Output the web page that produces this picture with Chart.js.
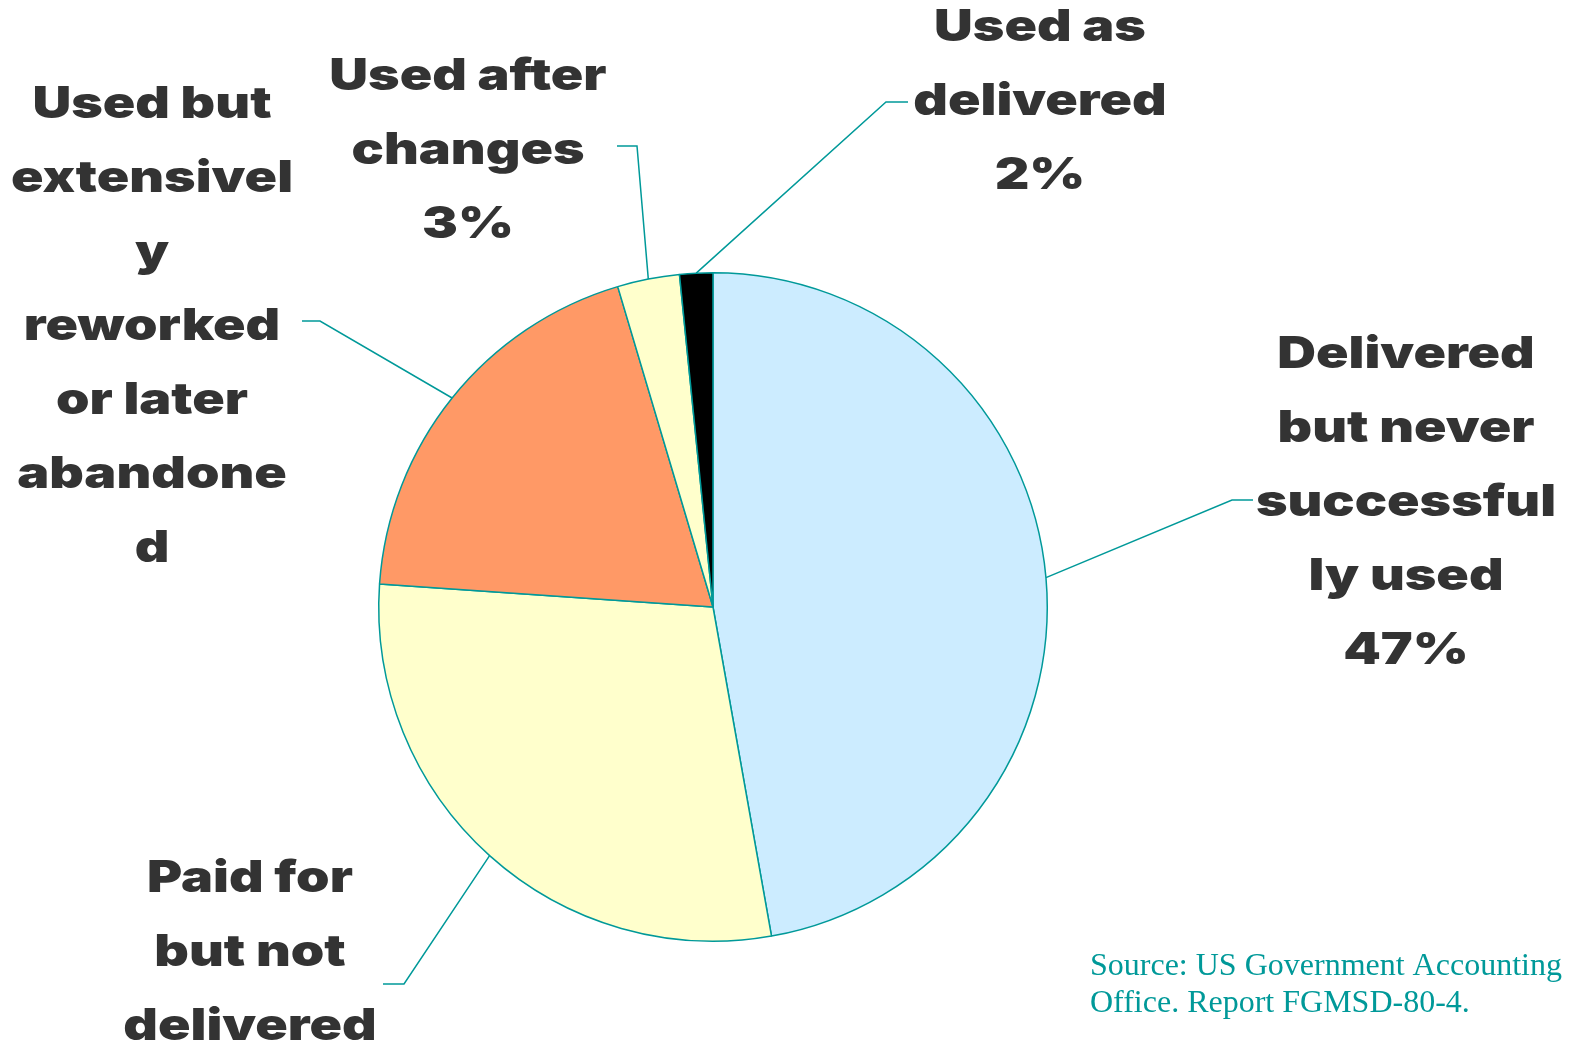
<!DOCTYPE html>
<html><head><meta charset="utf-8">
<script src="https://cdn.jsdelivr.net/npm/chart.js@4.4.0/dist/chart.umd.min.js"></script>
<style>html,body{margin:0;padding:0;background:#fff;overflow:hidden}#wrap{width:1571px;height:1041px;position:relative}</style>
</head><body><div id="wrap"><canvas id="c"></canvas></div>
<script>
// ---- data ----
const categories = [
  "Delivered but never successfully used",
  "Paid for but not delivered",
  "Used but extensively reworked or later abandoned",
  "Used after changes",
  "Used as delivered"
];
const values = [47.2, 28.9, 19.3, 3.0, 1.6];
const labelLines = [
  ["Delivered", "but never", "successful", "ly used"],
  ["Paid for", "but not", "delivered"],
  ["Used but", "extensivel", "y", "reworked", "or later", "abandone", "d"],
  ["Used after", "changes"],
  ["Used as", "delivered"]
];
const showPercent = [true, true, false, true, true];
const sourceLines = ["Source: US Government Accounting", "Office. Report FGMSD-80-4."];

// ---- styles / layout ----
const sliceColors = ["#CCECFF", "#FFFFCC", "#FF9966", "#FFFFCC", "#000000"];
const teal = "#009999";
const labelAnchor = [[1406, 368], [250, 892], [152, 118], [468, 90], [1040, 41]];
const leaderElbow = [[1232, 500], [404, 984], [320, 321], [637, 146], [886, 102]];
const leaderEnd = [[1253, 500], [383, 984], [302, 321], [617, 146], [908, 102]];
const lineGap = 74;
const labelFont = '900 44px "Arial Black", Inter, "DejaVu Sans", sans-serif';
const labelStretch = 1.22;

const total = values.reduce((a, b) => a + b, 0);

const labelPlugin = {
  id: 'pieLabels',
  afterDatasetsDraw(chart) {
    const ctx = chart.ctx;
    const meta = chart.getDatasetMeta(0);
    ctx.save();
    meta.data.forEach((arc, i) => {
      const p = arc.getProps(['x', 'y', 'startAngle', 'endAngle', 'outerRadius'], true);
      const mid = (p.startAngle + p.endAngle) / 2;
      const sx = p.x + Math.cos(mid) * p.outerRadius;
      const sy = p.y + Math.sin(mid) * p.outerRadius;
      ctx.strokeStyle = teal;
      ctx.lineWidth = 1.5;
      ctx.beginPath();
      ctx.moveTo(sx, sy);
      ctx.lineTo(leaderElbow[i][0], leaderElbow[i][1]);
      ctx.lineTo(leaderEnd[i][0], leaderEnd[i][1]);
      ctx.stroke();
    });
    ctx.font = labelFont;
    ctx.fillStyle = "#333333";
    ctx.textAlign = "center";
    ctx.textBaseline = "alphabetic";
    labelLines.forEach((lines, i) => {
      const all = lines.slice();
      if (showPercent[i]) all.push(Math.round(values[i] / total * 100) + "%");
      all.forEach((t, k) => {
        ctx.save();
        ctx.translate(labelAnchor[i][0], labelAnchor[i][1] + k * lineGap);
        ctx.scale(labelStretch, 1);
        ctx.fillText(t, 0, 0);
        ctx.restore();
      });
    });
    ctx.font = '32px "Liberation Serif", "Times New Roman", serif';
    ctx.fillStyle = teal;
    ctx.textAlign = "left";
    sourceLines.forEach((t, k) => ctx.fillText(t, 1090, 975 + k * 37));
    ctx.restore();
  }
};

new Chart(document.getElementById('c'), {
  type: 'pie',
  data: {
    labels: categories,
    datasets: [{
      data: values,
      backgroundColor: sliceColors,
      borderColor: teal,
      borderWidth: 1.5
    }]
  },
  options: {
    responsive: true,
    maintainAspectRatio: false,
    animation: false,
    layout: { padding: { left: 378, top: 272, right: 523, bottom: 99 } },
    plugins: { legend: { display: false }, tooltip: { enabled: false } }
  },
  plugins: [labelPlugin]
});
</script>
</body></html>
